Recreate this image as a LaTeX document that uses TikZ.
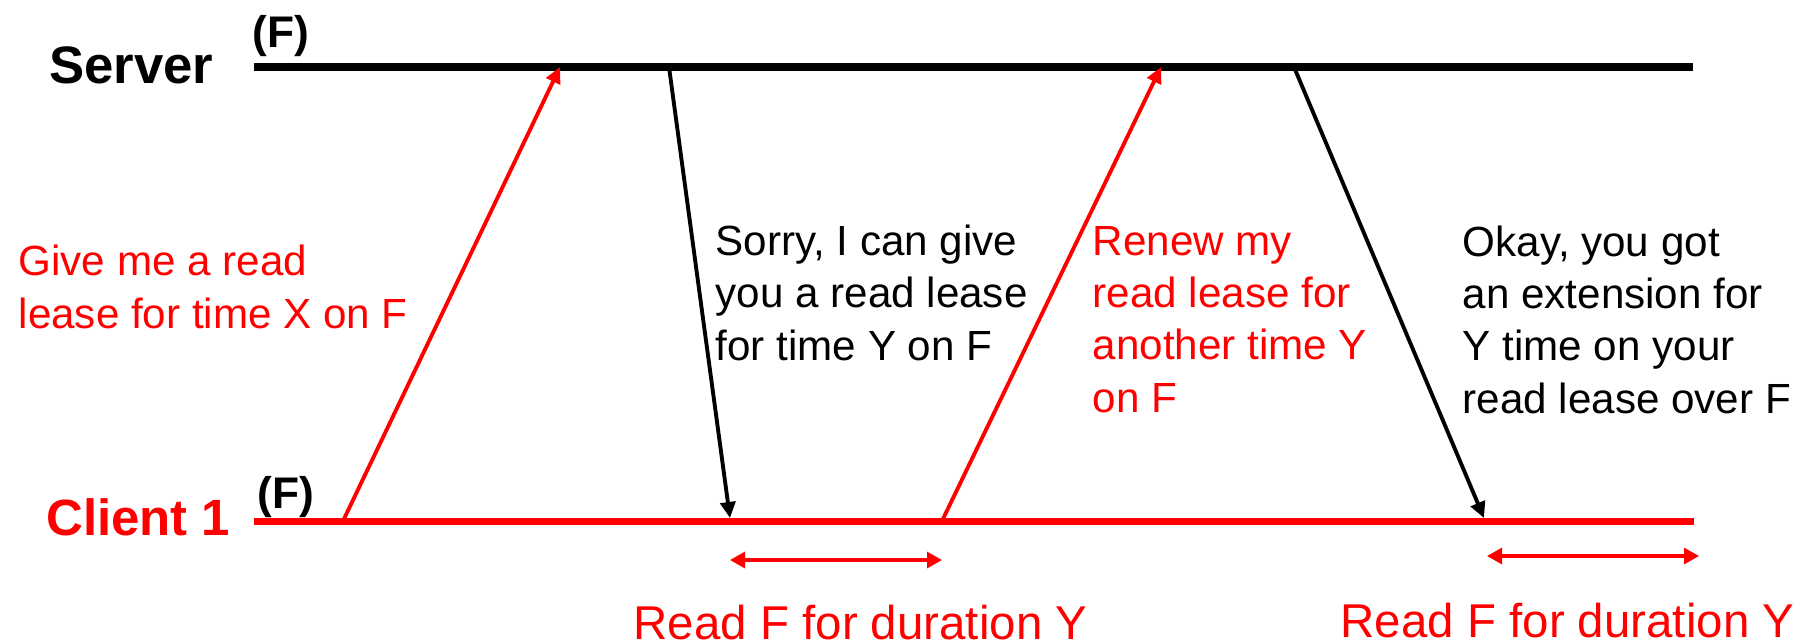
\documentclass[tikz,border=0pt]{standalone}
\usepackage{fontspec}
\setmainfont{Liberation Sans}
\usetikzlibrary{arrows.meta}
\tikzset{
    timeline/.style={line width=2pt},
    msg/.style={-{Triangle[length=0.16cm, width=0.15cm]}, line width=1.1pt},
    request/.style={msg, red},
    reply/.style={msg, black},
    span/.style={{Triangle[length=0.15cm, width=0.16cm]}-{Triangle[length=0.15cm, width=0.16cm]},
                 line width=0.9pt, red},
    party/.style={font=\fontsize{15}{18}\selectfont\bfseries, inner sep=0pt, anchor=base east},
    file/.style={font=\fontsize{12.6}{15}\selectfont\bfseries, inner sep=0pt, anchor=base west},
    note/.style={font=\fontsize{12}{14.8}\selectfont, align=left, inner sep=0pt, anchor=base west},
    duration/.style={font=\fontsize{13.5}{16}\selectfont, red, inner sep=0pt, anchor=base west},
}

\begin{document}
\begin{tikzpicture}
    \path[use as bounding box] (0,0) rectangle (18.12,-6.43);

    \node[party] (server) at (2.14,-0.83) {Server};
    \node[party, red, font=\fontsize{14.5}{17}\selectfont\bfseries] (client) at (2.31,-5.35) {Client 1};
    \node[file] (serverfile) at (2.52,-0.47) {(F)};
    \node[file] (clientfile) at (2.57,-5.08) {(F)};

    \coordinate (serverstart) at (2.54,-0.67);
    \coordinate (serverend) at (16.93,-0.67);
    \coordinate (clientstart) at (2.54,-5.21);
    \coordinate (clientend) at (16.94,-5.21);
    \draw[timeline] (serverstart) -- (serverend);
    \draw[timeline, red] (clientstart) -- (clientend);

    % lease request and reply
    \coordinate (askout) at (3.43,-5.21);
    \coordinate (askin) at (5.60,-0.67);
    \coordinate (grantout) at (6.69,-0.67);
    \coordinate (grantin) at (7.30,-5.18);
    \draw[request] (askout) -- (askin);
    \draw[reply] (grantout) -- (grantin);

    % renewal and reply
    \coordinate (renewout) at (9.42,-5.21);
    \coordinate (renewin) at (11.61,-0.67);
    \coordinate (extendout) at (12.94,-0.67);
    \coordinate (extendin) at (14.84,-5.18);
    \draw[request] (renewout) -- (renewin);
    \draw[reply] (extendout) -- (extendin);

    % base anchor sits on the last line
    \node[note, red] (asktext) at (0.18,-3.28) {Give me a read\\lease for time X on F};
    \node[note] (granttext) at (7.15,-3.60) {Sorry, I can give\\you a read lease\\for time Y on F};
    \node[note, red] (renewtext) at (10.92,-4.12) {Renew my\\read lease for\\another time Y\\on F};
    \node[note] (extendtext) at (14.62,-4.13) {Okay, you got\\an extension for\\Y time on your\\read lease over F};

    % read windows
    \coordinate (firststart) at (7.30,-5.60);
    \coordinate (firstend) at (9.42,-5.60);
    \coordinate (secondstart) at (14.87,-5.56);
    \coordinate (secondend) at (16.99,-5.56);
    \draw[span] (firststart) -- (firstend);
    \draw[span] (secondstart) -- (secondend);
    \node[duration] (firsttext) at (6.33,-6.39) {Read F for duration Y};
    \node[duration] (secondtext) at (13.40,-6.37) {Read F for duration Y};
\end{tikzpicture}
\end{document}
